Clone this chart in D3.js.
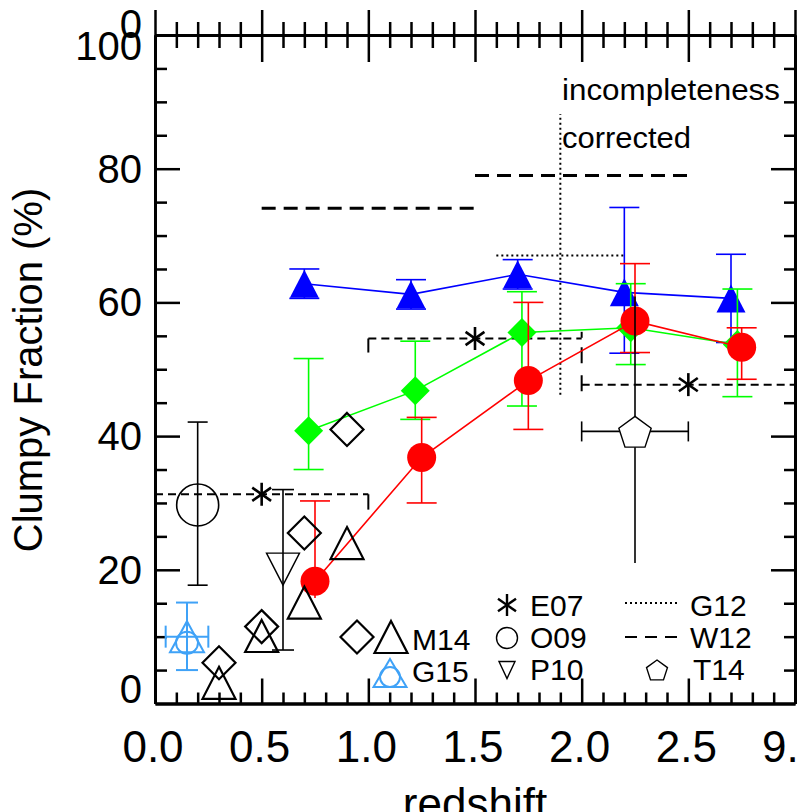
<!DOCTYPE html>
<html>
<head>
<meta charset="utf-8">
<script src="https://cdn.jsdelivr.net/npm/d3@7"></script>
<style>
  body { margin: 0; background: #fff; }
  svg { display: block; font-family: "Liberation Sans", Arial, Helvetica, sans-serif; }
</style>
</head>
<body>
<div id="chart"></div>
<script>
// ---- data ----
const xTickVals = [0, 0.5, 1, 1.5, 2, 2.5, 3];
const xTickLabels = ['0.0', '0.5', '1.0', '1.5', '2.0', '2.5', '9.'];
const yTickVals = [0, 20, 40, 60, 80, 100];
const yTickLabels = ['0', '20', '40', '60', '80', '100'];

// this work (three coloured series)
const blueZ = [0.7, 1.2, 1.7, 2.2, 2.7];
const blueV = [62.8, 61.2, 64.2, 61.5, 60.6];
const blueHi = [65.0, 63.4, 66.4, 74.2, 67.2];
const blueLo = [60.6, 59.0, 62.0, 52.4, 54.0];

const greenZ = [0.72, 1.22, 1.72, 2.23, 2.73];
const greenV = [40.8, 46.8, 55.5, 56.2, 53.7];
const greenHi = [51.6, 54.2, 61.6, 62.8, 62.0];
const greenLo = [35.0, 42.5, 44.5, 50.7, 45.9];

const redZ = [0.75, 1.25, 1.75, 2.25, 2.75];
const redV = [18.3, 36.8, 48.3, 57.2, 53.3];
const redHi = [30.3, 42.8, 60.0, 65.8, 56.2];
const redLo = [15.8, 30.0, 41.0, 52.5, 48.5];

// literature
const m14DiamondZ = [0.3, 0.5, 0.7, 0.9];
const m14DiamondV = [6.1, 11.5, 25.5, 41.0];
const m14TriZ = [0.3, 0.5, 0.7, 0.9];
const m14TriV = [3.1, 10.1, 15.1, 24.0];

const e07Z = [0.5, 1.5, 2.5];
const e07V = [31.3, 54.6, 47.7];
const e07BinLo = [0, 1, 2];
const e07BinHi = [1, 2, 3];
const e07Edges = [[1.0, 31.3, 29.0], [1.0, 54.6, 52.5], [2.0, 55.6, 54.7], [2.0, 53.3, 45.5]];

const w12BinLo = [0.5, 1.5];
const w12BinHi = [1.5, 2.5];
const w12V = [74.1, 79.0];

const g12BinLo = [1.6];
const g12BinHi = [2.2];
const g12V = [67.0];
const g12CutZ = 1.9;
const g12CutRange = [46.2, 88.2];

const o09 = { z: 0.2, v: 29.7, lo: 17.7, hi: 42.1 };
const p10 = { z: 0.6, v: 20.1, lo: 8.0, hi: 32.0 };
const t14 = { z: 2.25, v: 40.7, lo: 21.0, hi: 60.9, zlo: 2.0, zhi: 2.5 };
const g15 = { z: 0.15, v: 10.0, lo: 5.0, hi: 15.1, zlo: 0.05, zhi: 0.25 };

const W = 801, H = 812;
const svg = d3.select('#chart').append('svg').attr('width', W).attr('height', H);

const x = d3.scaleLinear().domain([0, 3]).range([155, 795]);
const y = d3.scaleLinear().domain([0, 100]).range([703.5, 35]);

const minorX = d3.range(0, 31).map(d => d / 10).filter(d => Math.round(d * 10) % 5 !== 0);
const minorY = d3.range(0, 101, 5).filter(d => d % 20 !== 0);

function styleAxis(g, w) {
  g.select('.domain').attr('stroke', '#000').attr('stroke-width', 3);
  g.selectAll('.tick line').attr('stroke', '#000').attr('stroke-width', w);
  g.selectAll('.tick text').remove();
}

// bottom
svg.append('g').attr('transform', `translate(0,${y(0)})`)
  .call(d3.axisBottom(x).tickValues(minorX).tickSize(-11).tickSizeOuter(0)).call(g => styleAxis(g, 2.5));
svg.append('g').attr('transform', `translate(0,${y(0)})`)
  .call(d3.axisBottom(x).tickValues(xTickVals).tickSize(-25).tickSizeOuter(0)).call(g => styleAxis(g, 2.5));
// top (ticks cross the line)
svg.append('g').attr('transform', `translate(0,${y(100)})`)
  .call(d3.axisTop(x).tickValues(minorX).tickSize(13).tickSizeOuter(0)).call(g => styleAxis(g, 2.5));
svg.append('g').attr('transform', `translate(0,${y(100)})`)
  .call(d3.axisBottom(x).tickValues(minorX).tickSize(13).tickSizeOuter(0)).call(g => styleAxis(g, 2.5));
svg.append('g').attr('transform', `translate(0,${y(100)})`)
  .call(d3.axisTop(x).tickValues(xTickVals).tickSize(25).tickSizeOuter(0)).call(g => styleAxis(g, 2.5));
svg.append('g').attr('transform', `translate(0,${y(100)})`)
  .call(d3.axisBottom(x).tickValues(xTickVals).tickSize(27).tickSizeOuter(0)).call(g => styleAxis(g, 2.5));
// left
svg.append('g').attr('transform', `translate(${x(0)},0)`)
  .call(d3.axisLeft(y).tickValues(minorY).tickSize(-12).tickSizeOuter(0)).call(g => styleAxis(g, 2.5));
svg.append('g').attr('transform', `translate(${x(0)},0)`)
  .call(d3.axisLeft(y).tickValues(yTickVals.slice(1, 5)).tickSize(-25).tickSizeOuter(0)).call(g => styleAxis(g, 2.5));
// right
svg.append('g').attr('transform', `translate(${x(3)},0)`)
  .call(d3.axisRight(y).tickValues(minorY).tickSize(-11).tickSizeOuter(0)).call(g => styleAxis(g, 2.5));
svg.append('g').attr('transform', `translate(${x(3)},0)`)
  .call(d3.axisRight(y).tickValues(yTickVals.slice(1, 5)).tickSize(-24).tickSizeOuter(0)).call(g => styleAxis(g, 2.5));

// tick labels
svg.append('g').selectAll('text').data(xTickVals).join('text')
  .attr('x', (d, i) => i === xTickVals.length - 1 ? x(d) - 33 : x(d) - 2)
  .attr('y', 762)
  .attr('text-anchor', (d, i) => i === xTickVals.length - 1 ? 'start' : 'middle')
  .attr('font-size', 44)
  .text((d, i) => xTickLabels[i]);

svg.append('g').selectAll('text').data(yTickVals).join('text')
  .attr('x', 142)
  .attr('y', d => d === 100 ? 60 : d === 0 ? 703 : y(d) + 14)
  .attr('text-anchor', 'end')
  .attr('font-size', 40)
  .text((d, i) => yTickLabels[i]);
svg.append('text').attr('x', 142).attr('y', 38).attr('text-anchor', 'end')
  .attr('font-size', 40).text('0');

svg.append('text').attr('transform', 'translate(42,370) rotate(-90)')
  .attr('text-anchor', 'middle').attr('font-size', 40).text('Clumpy Fraction (%)');
svg.append('text').attr('x', 475).attr('y', 819)
  .attr('text-anchor', 'middle').attr('font-size', 44).text('redshift');

svg.append('text').attr('x', 562).attr('y', 100).attr('font-size', 29)
  .attr('textLength', 218).attr('lengthAdjust', 'spacingAndGlyphs').text('incompleteness');
svg.append('text').attr('x', 562).attr('y', 148).attr('font-size', 29)
  .attr('textLength', 129).attr('lengthAdjust', 'spacingAndGlyphs').text('corrected');

// ---- symbol helpers ----
const tri = (cx, cy, w, h) => `M${cx},${cy - h / 2}L${cx + w},${cy + h / 2}L${cx - w},${cy + h / 2}Z`;
const triDown = (cx, cy, w, h) => `M${cx - w},${cy - h / 2}L${cx + w},${cy - h / 2}L${cx},${cy + h / 2}Z`;
const diamond = (cx, cy, r) => `M${cx},${cy - r}L${cx + r},${cy}L${cx},${cy + r}L${cx - r},${cy}Z`;
const pentagon = (cx, cy, r) => d3.range(5).map(i => {
  const a = -Math.PI / 2 + i * 2 * Math.PI / 5;
  return (i ? 'L' : 'M') + (cx + r * Math.cos(a)) + ',' + (cy + r * Math.sin(a));
}).join('') + 'Z';
function asterisk(g, cx, cy, r, sw) {
  [90, 35, 145].forEach(a => {
    const t = a * Math.PI / 180;
    g.append('line')
      .attr('x1', cx - r * Math.cos(t)).attr('y1', cy - r * Math.sin(t))
      .attr('x2', cx + r * Math.cos(t)).attr('y2', cy + r * Math.sin(t))
      .attr('stroke', '#000').attr('stroke-width', sw);
  });
}
function vErr(g, cx, y1, y2, cap, color, sw, capLo = true) {
  g.append('line').attr('x1', cx).attr('x2', cx).attr('y1', y1).attr('y2', y2)
    .attr('stroke', color).attr('stroke-width', sw);
  (capLo ? [y1, y2] : [y1]).forEach(yy => g.append('line').attr('x1', cx - cap).attr('x2', cx + cap)
    .attr('y1', yy).attr('y2', yy).attr('stroke', color).attr('stroke-width', sw));
}

const layer = svg.append('g');

// W12 long dashes
w12V.forEach((v, i) => layer.append('line')
  .attr('x1', x(w12BinLo[i])).attr('x2', x(w12BinHi[i])).attr('y1', y(v)).attr('y2', y(v))
  .attr('stroke', '#000').attr('stroke-width', 3).attr('stroke-dasharray', '14,8'));

// E07 short dashes
e07V.forEach((v, i) => layer.append('line')
  .attr('x1', x(e07BinLo[i])).attr('x2', x(e07BinHi[i])).attr('y1', y(v)).attr('y2', y(v))
  .attr('stroke', '#000').attr('stroke-width', 2).attr('stroke-dasharray', '8,5'));
e07Edges.forEach(e => layer.append('line')
  .attr('x1', x(e[0])).attr('x2', x(e[0])).attr('y1', y(e[1])).attr('y2', y(e[2]))
  .attr('stroke', '#000').attr('stroke-width', 2).attr('stroke-dasharray', '16,12'));

// G12 dotted
g12V.forEach((v, i) => layer.append('line')
  .attr('x1', x(g12BinLo[i])).attr('x2', x(g12BinHi[i])).attr('y1', y(v)).attr('y2', y(v))
  .attr('stroke', '#000').attr('stroke-width', 2).attr('stroke-dasharray', '2,3'));
layer.append('line').attr('x1', x(g12CutZ)).attr('x2', x(g12CutZ))
  .attr('y1', y(g12CutRange[0])).attr('y2', y(g12CutRange[1]))
  .attr('stroke', '#000').attr('stroke-width', 2).attr('stroke-dasharray', '2,3');

// coloured series
function series(zs, vs, hi, lo, color, marker) {
  const g = layer.append('g');
  g.append('path').datum(zs.map((z, i) => [z, vs[i]]))
    .attr('d', d3.line().x(d => x(d[0])).y(d => y(d[1])))
    .attr('fill', 'none').attr('stroke', color).attr('stroke-width', 1.6);
  zs.forEach((z, i) => vErr(g, x(z), y(hi[i]), y(lo[i]), 15, color, 1.6, !(color === '#ff0000' && i === 0)));
  zs.forEach((z, i) => marker(g, x(z), y(vs[i])));
}
series(blueZ, blueV, blueHi, blueLo, '#0000ff',
  (g, cx, cy) => g.append('path').attr('d', tri(cx, cy, 14.5, 28)).attr('fill', '#0000ff'));
series(greenZ, greenV, greenHi, greenLo, '#00ff00',
  (g, cx, cy) => g.append('path').attr('d', diamond(cx, cy, 14.5)).attr('fill', '#00ff00'));
series(redZ, redV, redHi, redLo, '#ff0000',
  (g, cx, cy) => g.append('circle').attr('cx', cx).attr('cy', cy).attr('r', 14.5).attr('fill', '#ff0000'));

// black literature points
const lit = layer.append('g').attr('fill', 'none').attr('stroke', '#000');
m14DiamondZ.forEach((z, i) => lit.append('path').attr('d', diamond(x(z), y(m14DiamondV[i]), 16.5)).attr('stroke-width', 2.2));
m14TriZ.forEach((z, i) => lit.append('path').attr('d', tri(x(z), y(m14TriV[i]), 16.5, 32)).attr('stroke-width', 2.2));
e07Z.forEach((z, i) => asterisk(lit, x(z), y(e07V[i]), 11.5, 2.6));

vErr(lit, x(o09.z), y(o09.hi), y(o09.lo), 10, '#000', 1.6);
lit.append('circle').attr('cx', x(o09.z)).attr('cy', y(o09.v)).attr('r', 21).attr('stroke-width', 1.6);

vErr(lit, x(p10.z), y(p10.hi), y(p10.lo), 11, '#000', 1.6);
lit.append('path').attr('d', triDown(x(p10.z), y(p10.v), 16.5, 32)).attr('stroke-width', 1.4);

vErr(lit, x(t14.z), y(t14.hi), y(t14.lo), 0, '#000', 1.6);
lit.append('line').attr('x1', x(t14.zlo)).attr('x2', x(t14.zhi)).attr('y1', y(t14.v)).attr('y2', y(t14.v)).attr('stroke-width', 1.6);
[t14.zlo, t14.zhi].forEach(z => lit.append('line').attr('x1', x(z)).attr('x2', x(z))
  .attr('y1', y(t14.v) - 10).attr('y2', y(t14.v) + 10).attr('stroke-width', 1.6));
lit.append('path').attr('d', pentagon(x(t14.z), y(t14.v) + 2, 17)).attr('fill', '#fff').attr('stroke-width', 1.4);

// G15 (light blue)
const g15c = '#3fa2f7';
const gg = layer.append('g').attr('fill', 'none').attr('stroke', g15c);
vErr(gg, x(g15.z), y(g15.hi), y(g15.lo), 11, g15c, 2);
gg.append('line').attr('x1', x(g15.zlo)).attr('x2', x(g15.zhi)).attr('y1', y(g15.v)).attr('y2', y(g15.v)).attr('stroke-width', 2);
[g15.zlo, g15.zhi].forEach(z => gg.append('line').attr('x1', x(z)).attr('x2', x(z))
  .attr('y1', y(g15.v) - 11).attr('y2', y(g15.v) + 11).attr('stroke-width', 2));
gg.append('path').attr('d', tri(x(g15.z), y(g15.v), 17, 31)).attr('stroke-width', 2);
gg.append('circle').attr('cx', x(g15.z)).attr('cy', y(g15.v) + 6).attr('r', 11).attr('stroke-width', 2);

// ---- legend ----
const leg = svg.append('g').attr('font-size', 30);
const lg = leg.append('g').attr('fill', 'none').attr('stroke', '#000');
lg.append('path').attr('d', diamond(357, 637, 16.5)).attr('stroke-width', 2.2);
lg.append('path').attr('d', tri(391, 637, 16.5, 32)).attr('stroke-width', 2.2);
lg.append('path').attr('d', tri(390, 673, 16.5, 28)).attr('stroke', g15c).attr('stroke-width', 2);
lg.append('circle').attr('cx', 390).attr('cy', 677).attr('r', 10).attr('stroke', g15c).attr('stroke-width', 2);
asterisk(lg, 507, 605, 11, 2.4);
lg.append('circle').attr('cx', 507).attr('cy', 638).attr('r', 10.5).attr('stroke-width', 1.4);
lg.append('path').attr('d', triDown(507, 670, 8, 17)).attr('stroke-width', 1.4);
lg.append('line').attr('x1', 625).attr('x2', 678).attr('y1', 603).attr('y2', 603)
  .attr('stroke-width', 2).attr('stroke-dasharray', '2,3');
lg.append('line').attr('x1', 625).attr('x2', 678).attr('y1', 637).attr('y2', 637)
  .attr('stroke-width', 2).attr('stroke-dasharray', '12,8');
lg.append('path').attr('d', pentagon(657, 671, 11)).attr('stroke-width', 1.4);

[['M14', 412, 650], ['G15', 412, 682], ['E07', 530, 616], ['O09', 530, 648], ['P10', 530, 680],
 ['G12', 690, 616], ['W12', 690, 648], ['T14', 693, 680]]
  .forEach(t => leg.append('text').attr('x', t[1]).attr('y', t[2]).text(t[0]));
</script>
</body>
</html>
